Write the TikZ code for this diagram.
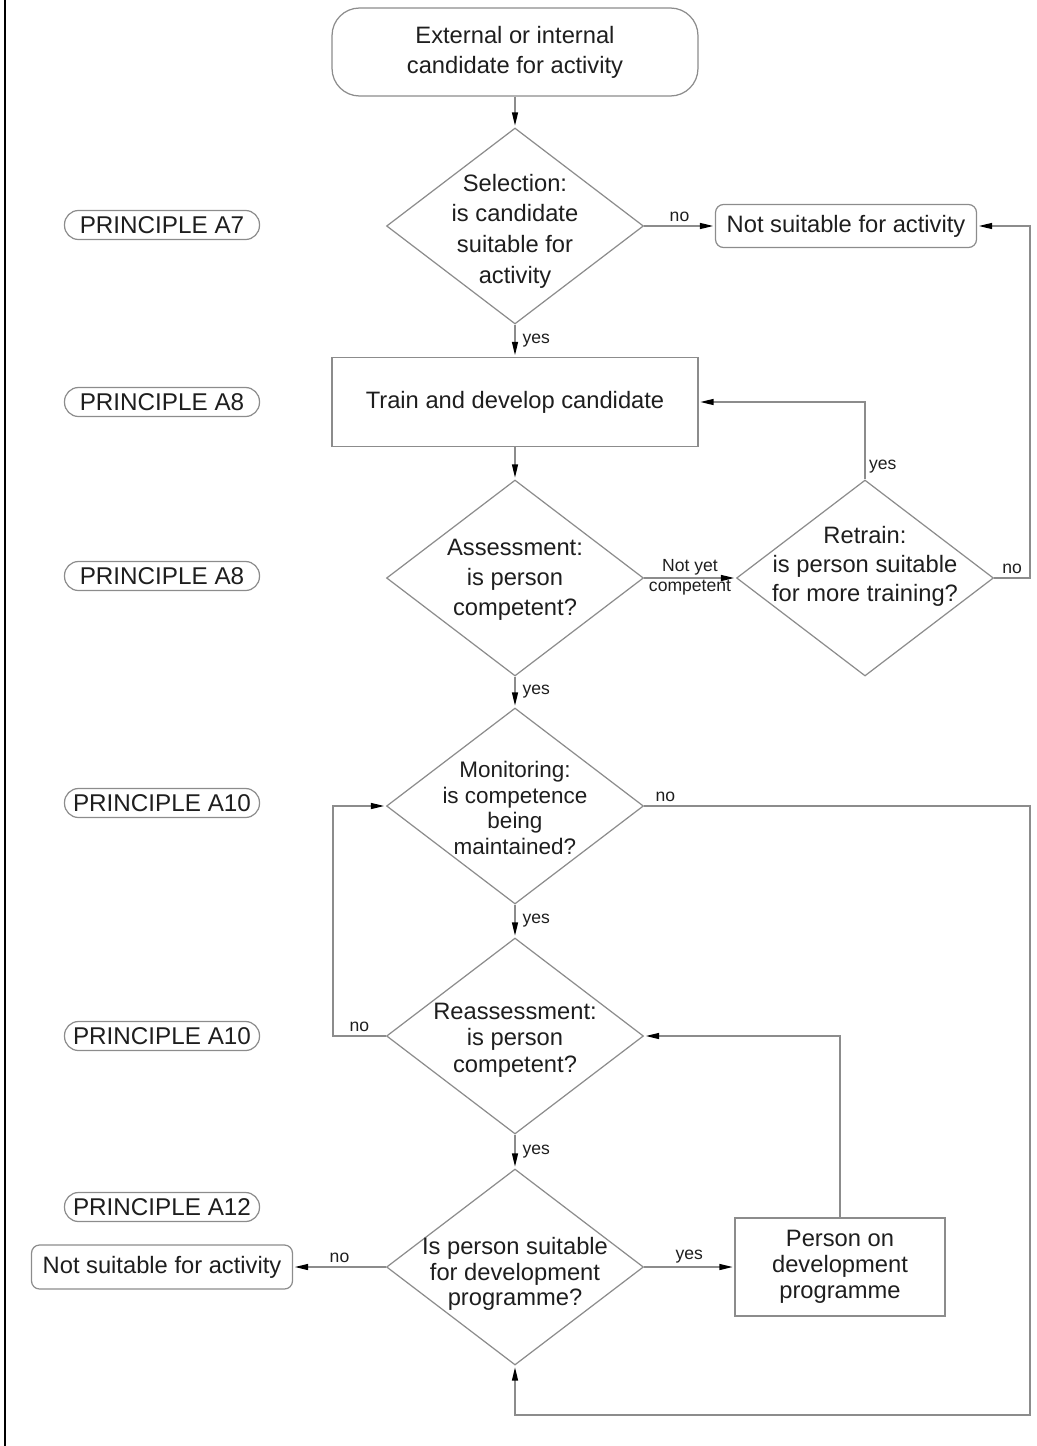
\documentclass[tikz,border=0pt]{standalone}
\usepackage{fontspec}
\setmainfont{Liberation Sans}
\usetikzlibrary{shapes.geometric,arrows.meta}

\definecolor{linegray}{HTML}{8C8C8C}
\definecolor{ink}{HTML}{1E1E1E}

\begin{document}
\begin{tikzpicture}[x=0.02cm,y=-0.02cm,
  every node/.style={text=ink},
  line/.style={draw=linegray, line width=0.7pt},
  arr/.style={line, -{Triangle[length=7.5pt,width=3.4pt,color=black]}, shorten >=1pt},
  maintext/.style={font=\fontsize{13.5}{17}\selectfont, align=center},
  term/.style={draw=linegray, line width=0.7pt, rounded corners=0.55cm,
    minimum width=7.32cm, minimum height=1.76cm, inner sep=0pt, maintext},
  proc/.style={draw=linegray, line width=0.7pt, inner sep=0pt, maintext},
  endbox/.style={draw=linegray, line width=0.7pt, rounded corners=0.16cm,
    minimum width=5.22cm, minimum height=0.86cm, inner sep=0pt, maintext},
  dec/.style={diamond, draw=linegray, line width=0.7pt, inner sep=0pt,
    minimum width=5.14cm, minimum height=3.92cm},
  dectext/.style={align=center, inner sep=0pt},
  pill/.style={draw=linegray, line width=0.7pt, rounded corners=0.28cm,
    minimum width=3.9cm, minimum height=0.58cm, inner sep=0pt,
    font=\fontsize{13.8}{15}\selectfont},
  lbl/.style={font=\fontsize{10}{12}\selectfont, inner sep=2pt}
]
\useasboundingbox (0,0) rectangle (1037,1446);

% page edge rule
\draw[line width=1.7pt, black] (5,0) -- (5,1446);

% principle tags
\node[pill] (pa7)  at (162,225)  {PRINCIPLE A7};
\node[pill] (pa8a) at (162,402)  {PRINCIPLE A8};
\node[pill] (pa8b) at (162,576)  {PRINCIPLE A8};
\node[pill] (pa10a) at (162,803) {PRINCIPLE A10};
\node[pill] (pa10b) at (162,1036) {PRINCIPLE A10};
\node[pill] (pa12) at (162,1207) {PRINCIPLE A12};

% main column
\node[term] (start) at (515,52) {External or internal\\candidate for activity};

\node[dec] (sel) at (515,226) {};
\node[dectext, font=\fontsize{13.5}{17.5}\selectfont] at (515,231)
  {Selection:\\is candidate\\suitable for\\activity};

\node[endbox] (ns1) at (846,226) {Not suitable for activity};

\node[proc, minimum width=7.32cm, minimum height=1.78cm] (train) at (515,402)
  {Train and develop candidate};

\node[dec] (asm) at (515,578) {};
\node[dectext, font=\fontsize{13.5}{17}\selectfont] at (515,580)
  {Assessment:\\is person\\competent?};

\node[dec] (ret) at (865,578) {};
\node[dectext, font=\fontsize{13.5}{16.5}\selectfont] at (865,566)
  {Retrain:\\is person suitable\\for more training?};

\node[dec] (mon) at (515,806) {};
\node[dectext, font=\fontsize{12.8}{14.7}\selectfont] at (515,808)
  {Monitoring:\\is competence\\being\\maintained?};

\node[dec] (rea) at (515,1036) {};
\node[dectext, font=\fontsize{13.5}{15.2}\selectfont] at (515,1040)
  {Reassessment:\\is person\\competent?};

\node[dec] (fin) at (515,1267) {};
\node[dectext, font=\fontsize{13.5}{14.7}\selectfont] at (515,1274)
  {Is person suitable\\for development\\programme?};

\node[endbox, minimum height=0.88cm] (ns2) at (162,1267) {Not suitable for activity};

\node[proc, minimum width=4.2cm, minimum height=1.96cm,
  font=\fontsize{13.5}{14.7}\selectfont] (pers) at (840,1267)
  {Person on\\development\\programme};

% routing points
\coordinate (rr) at (1030,578);
\coordinate (mr) at (1030,1415);
\coordinate (rl) at (333,1036);

% connectors
\draw[arr] (start.south) -- (sel.north);
\draw[arr] (sel.east) -- node[lbl, above] {no} (ns1.west);
\draw[arr] (sel.south) -- node[lbl, right, xshift=2pt] {yes} (train.north);
\draw[arr] (train.south) -- (asm.north);
\draw[arr] (asm.east) -- node[lbl, above, inner sep=1pt] {Not yet}
  node[lbl, below, inner sep=1pt] {competent} (ret.west);
\draw[arr] (ret.north) |- node[lbl, right, pos=0.08] {yes} (train.east);
\draw[arr] (ret.east) -- node[lbl, above] {no} (rr) |- (ns1.east);
\draw[arr] (asm.south) -- node[lbl, right, xshift=2pt] {yes} (mon.north);
\draw[arr] (mon.east) -- node[lbl, above, pos=0.055] {no} (mon.east -| mr) -- (mr) -| (fin.south);
\draw[arr] (mon.south) -- node[lbl, right, xshift=2pt] {yes} (rea.north);
\draw[arr] (rea.west) -- node[lbl, above] {no} (rl) |- (mon.west);
\draw[arr] (rea.south) -- node[lbl, right, xshift=2pt] {yes} (fin.north);
\draw[arr] (fin.west) -- node[lbl, above] {no} (ns2.east);
\draw[arr] (fin.east) -- node[lbl, above] {yes} (pers.west);
\draw[arr] (pers.north) |- (rea.east);

\end{tikzpicture}
\end{document}
